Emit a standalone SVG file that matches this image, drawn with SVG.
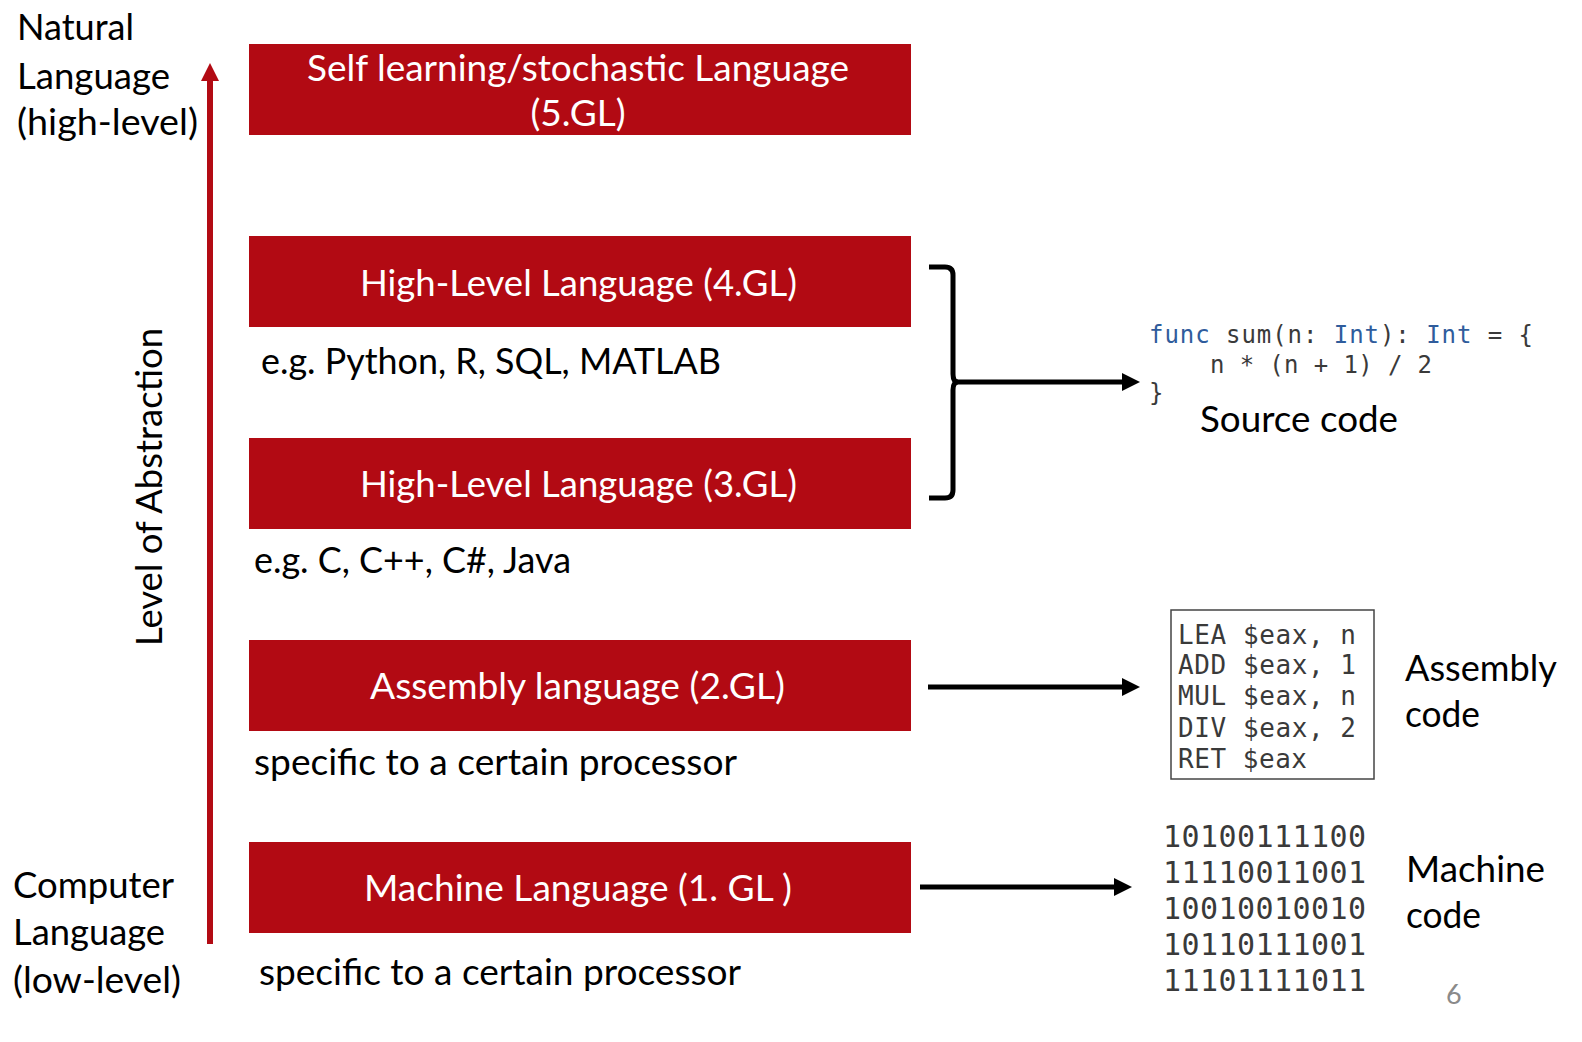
<svg xmlns="http://www.w3.org/2000/svg" width="1582" height="1042" viewBox="0 0 1582 1042">
  <style>
    .box { fill: #B20A13; }
    .bt { font-family: Lato, "Open Sans", sans-serif; font-size: 36px; fill: #ffffff; }
    .t { font-family: Lato, "Open Sans", sans-serif; font-size: 36px; fill: #000000; }
    .code { font-family: "DejaVu Sans Mono", "Liberation Mono", monospace; fill: #3a3a3a; }
    .kw { fill: #2F5C9C; }
    .conn { stroke: #000000; stroke-width: 5; fill: none; }
    .pg { font-family: Lato, "Open Sans", sans-serif; font-size: 27px; fill: #8a8a8a; }
  </style>
  <defs>
    <marker id="ah" viewBox="0 0 18 18" markerWidth="18" markerHeight="18" refX="8" refY="9" orient="auto" markerUnits="userSpaceOnUse">
      <path d="M0,0 L18,9 L0,18 z" fill="#000000"/>
    </marker>
    <marker id="ahRed" viewBox="0 0 18 18" markerWidth="18" markerHeight="18" refX="8" refY="9" orient="auto" markerUnits="userSpaceOnUse">
      <path d="M0,0 L18,9 L0,18 z" fill="#B20A13"/>
    </marker>
  </defs>
  <rect width="1582" height="1042" fill="#ffffff"/>

  <!-- Abstraction axis -->
  <g id="axis">
    <line x1="210" y1="944" x2="210" y2="73" stroke="#B20A13" stroke-width="6" marker-end="url(#ahRed)"/>
    <text class="t" x="162" y="487" text-anchor="middle" transform="rotate(-90 162 487)" textLength="318" lengthAdjust="spacingAndGlyphs">Level of Abstraction</text>
  </g>

  <g id="label-natural">
    <text class="t" x="17" y="40" textLength="117" lengthAdjust="spacingAndGlyphs">Natural</text>
    <text class="t" x="17" y="89" textLength="153" lengthAdjust="spacingAndGlyphs">Language</text>
    <text class="t" x="17" y="135" textLength="181" lengthAdjust="spacingAndGlyphs">(high-level)</text>
  </g>

  <g id="label-computer">
    <text class="t" x="13" y="898" textLength="161" lengthAdjust="spacingAndGlyphs">Computer</text>
    <text class="t" x="13" y="945" textLength="152" lengthAdjust="spacingAndGlyphs">Language</text>
    <text class="t" x="13" y="993" textLength="168" lengthAdjust="spacingAndGlyphs">(low-level)</text>
  </g>

  <g id="gl5">
    <rect class="box" x="249" y="44" width="662" height="91"/>
    <text class="bt" x="578" y="81" text-anchor="middle" textLength="542" lengthAdjust="spacingAndGlyphs">Self learning/stochastic Language</text>
    <text class="bt" x="578" y="126" text-anchor="middle" textLength="95" lengthAdjust="spacingAndGlyphs">(5.GL)</text>
  </g>

  <g id="gl4">
    <rect class="box" x="249" y="236" width="662" height="91"/>
    <text class="bt" x="578.5" y="296" text-anchor="middle" textLength="437" lengthAdjust="spacingAndGlyphs">High-Level Language (4.GL)</text>
    <text class="t" x="261" y="374" textLength="460" lengthAdjust="spacingAndGlyphs">e.g. Python, R, SQL, MATLAB</text>
  </g>

  <g id="gl3">
    <rect class="box" x="249" y="438" width="662" height="91"/>
    <text class="bt" x="578.5" y="497" text-anchor="middle" textLength="437" lengthAdjust="spacingAndGlyphs">High-Level Language (3.GL)</text>
    <text class="t" x="254" y="573" textLength="317" lengthAdjust="spacingAndGlyphs">e.g. C, C++, C#, Java</text>
  </g>

  <g id="gl2">
    <rect class="box" x="249" y="640" width="662" height="91"/>
    <text class="bt" x="577.5" y="699" text-anchor="middle" textLength="415" lengthAdjust="spacingAndGlyphs">Assembly language (2.GL)</text>
    <text class="t" x="254" y="775" textLength="483" lengthAdjust="spacingAndGlyphs">specific to a certain processor</text>
  </g>

  <g id="gl1">
    <rect class="box" x="249" y="842" width="662" height="91"/>
    <text class="bt" x="578" y="901" text-anchor="middle" textLength="428" lengthAdjust="spacingAndGlyphs">Machine Language (1. GL )</text>
    <text class="t" x="259" y="985" textLength="482" lengthAdjust="spacingAndGlyphs">specific to a certain processor</text>
  </g>

  <g id="source-code">
    <text class="code" x="1149" y="343" font-size="24" textLength="384" lengthAdjust="spacing"><tspan class="kw">func</tspan> sum(n: <tspan class="kw">Int</tspan>): <tspan class="kw">Int</tspan> = {</text>
    <text class="code" x="1210" y="373" font-size="24" textLength="222" lengthAdjust="spacing">n * (n + 1) / 2</text>
    <text class="code" x="1149" y="401" font-size="24">}</text>
    <text class="t" x="1200" y="432" textLength="198" lengthAdjust="spacingAndGlyphs">Source code</text>
  </g>

  <g id="assembly-code">
    <rect x="1171" y="610" width="203" height="169" fill="#ffffff" stroke="#444444" stroke-width="1.5"/>
    <text class="code" x="1178" y="644" font-size="26" textLength="178" lengthAdjust="spacing">LEA $eax, n</text>
    <text class="code" x="1178" y="674" font-size="26" textLength="178" lengthAdjust="spacing">ADD $eax, 1</text>
    <text class="code" x="1178" y="705" font-size="26" textLength="178" lengthAdjust="spacing">MUL $eax, n</text>
    <text class="code" x="1178" y="737" font-size="26" textLength="178" lengthAdjust="spacing">DIV $eax, 2</text>
    <text class="code" x="1178" y="768" font-size="26" textLength="129" lengthAdjust="spacing">RET $eax</text>
    <text class="t" x="1405" y="681" textLength="152" lengthAdjust="spacingAndGlyphs">Assembly</text>
    <text class="t" x="1405" y="727" textLength="75" lengthAdjust="spacingAndGlyphs">code</text>
  </g>

  <g id="machine-code">
    <text class="code" x="1163" y="847" font-size="30" textLength="203" lengthAdjust="spacing">10100111100</text>
    <text class="code" x="1163" y="883" font-size="30" textLength="203" lengthAdjust="spacing">11110011001</text>
    <text class="code" x="1163" y="919" font-size="30" textLength="203" lengthAdjust="spacing">10010010010</text>
    <text class="code" x="1163" y="955" font-size="30" textLength="203" lengthAdjust="spacing">10110111001</text>
    <text class="code" x="1163" y="991" font-size="30" textLength="203" lengthAdjust="spacing">11101111011</text>
    <text class="t" x="1406" y="882" textLength="139" lengthAdjust="spacingAndGlyphs">Machine</text>
    <text class="t" x="1406" y="928" textLength="75" lengthAdjust="spacingAndGlyphs">code</text>
  </g>

  <g id="connectors">
    <path class="conn" d="M929,267 L945,267 Q953,267 953,275 L953,374 Q953,382 958,382 Q953,382 953,390 L953,490 Q953,498 945,498 L929,498"/>
    <line class="conn" x1="955" y1="382" x2="1130" y2="382" marker-end="url(#ah)"/>
    <line class="conn" x1="928" y1="687" x2="1130" y2="687" marker-end="url(#ah)"/>
    <line class="conn" x1="920" y1="887" x2="1122" y2="887" marker-end="url(#ah)"/>
  </g>

  <text class="pg" x="1446" y="1004">6</text>
</svg>
